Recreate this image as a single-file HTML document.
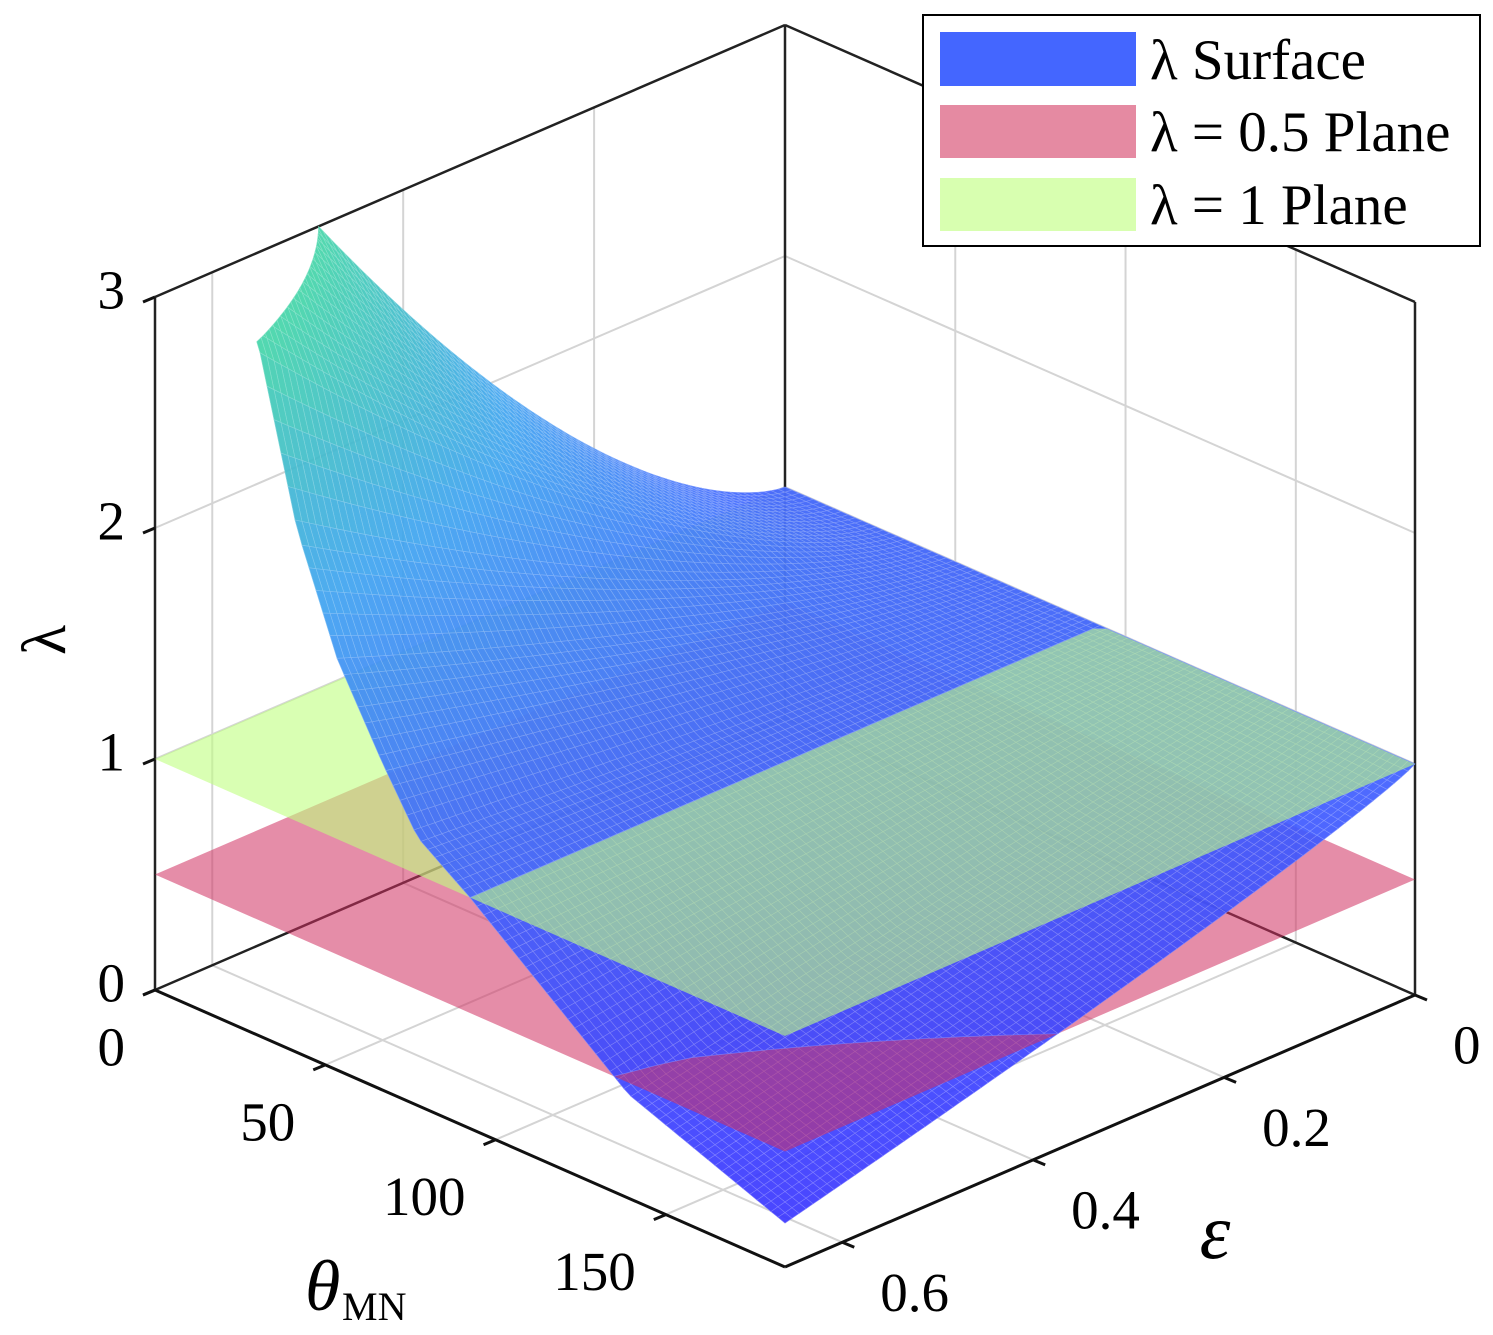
<!DOCTYPE html>
<html><head><meta charset="utf-8">
<style>
html,body{margin:0;padding:0;background:#fff;}
svg{display:block;}
text{font-family:"Liberation Serif",serif;fill:#000;}
</style></head>
<body>
<svg id="chart" width="1493" height="1335" viewBox="0 0 1493 1335" xmlns="http://www.w3.org/2000/svg">
  <g id="walls"></g>
  <g id="band0" opacity="0.92"></g>
  <g id="plane05"></g>
  <g id="band1" opacity="0.92"></g>
  <g id="plane1"></g>
  <g id="band2" opacity="0.92"></g>
  <g id="axes"></g>

  <text x="45" y="640" font-size="62" text-anchor="middle" dominant-baseline="central" transform="rotate(-90 45 640)">λ</text>
  <g>
    <text x="305" y="1310" font-size="72" font-style="italic">θ</text>
    <text x="342" y="1320" font-size="40">MN</text>
  </g>
  <text x="1215" y="1258" font-size="78" font-style="italic" text-anchor="middle">ε</text>

  <g>
    <rect x="923" y="15" width="557" height="231" fill="#fff" stroke="#000" stroke-width="2"/>
    <g>
      <rect x="940" y="32" width="196" height="54" fill="#4466ff"/>
      <text x="1150" y="79" font-size="57">λ Surface</text>
    </g>
    <g>
      <rect x="940" y="105" width="196" height="53" fill="#e58aa2"/>
      <text x="1150" y="151" font-size="57">λ = 0.5 Plane</text>
    </g>
    <g>
      <rect x="940" y="178" width="196" height="53" fill="#d8ffb0"/>
      <text x="1150" y="224" font-size="57">λ = 1 Plane</text>
    </g>
  </g>
</svg>
<script>
// ---- data ----
const thetaTicks = [0, 50, 100, 150];
const epsTicks = [0, 0.2, 0.4, 0.6];
const epsTickLabels = ["0", "0.2", "0.4", "0.6"];
const lamTicks = [0, 1, 2, 3];
const planeLevels = [0.5, 1];
// surface shape: lambda = 1 + g(theta) * (eps/epsMax)^p(theta), clipped at 3
const surfThetaKnots = [0, 30.5, 41.6, 53.5, 66.6, 77.1, 92.5, 139, 185];
const surfGKnots = [3.14, 1.98, 1.27, 0.78, 0.42, 0.16, 0.0, -0.55, -0.81];
const expThetaKnots = [0, 92.5, 185];
const expKnots = [1.5, 1.2, 0.85];

const TH_MAX = 185, EPS_MAX = 0.66, LAM_MAX = 3;
const O = [785, 718], VA = [630, 277], VB = [-630, 272], LPX = 231;
const NS = "http://www.w3.org/2000/svg";

function P(th, ep, lam){
  const a = th/TH_MAX, b = ep/EPS_MAX;
  return [O[0]+VA[0]*a+VB[0]*b, O[1]+VA[1]*a+VB[1]*b-LPX*lam];
}
function interp(xs, ys, x){
  for(let i=0;i<xs.length-1;i++){
    if(x<=xs[i+1]){ const f=(x-xs[i])/(xs[i+1]-xs[i]); return ys[i]+(ys[i+1]-ys[i])*f; }
  }
  return ys[ys.length-1];
}
function lamAt(th, ep){
  return 1 + interp(surfThetaKnots,surfGKnots,th)*Math.pow(ep/EPS_MAX, interp(expThetaKnots,expKnots,th));
}
function pts(arr){ return arr.map(p=>p[0].toFixed(1)+","+p[1].toFixed(1)).join(" "); }
function line(parent, p, q, stroke, w, name){
  const l=document.createElementNS(NS,"line");
  l.setAttribute("x1",p[0]);l.setAttribute("y1",p[1]);l.setAttribute("x2",q[0]);l.setAttribute("y2",q[1]);
  l.setAttribute("stroke",stroke);l.setAttribute("stroke-width",w);
  
  
  parent.appendChild(l);
}
function txt(parent, x, y, s, anchor, name){
  const t=document.createElementNS(NS,"text");
  t.setAttribute("x",x);t.setAttribute("y",y);t.setAttribute("font-size","55");
  t.setAttribute("text-anchor",anchor);t.setAttribute("dominant-baseline","central");
  t.textContent=s;
  
  
  parent.appendChild(t);
}

// ---- back grid + back edges ----
const walls=document.getElementById("walls");
const GC="#d4d4d4";
lamTicks.forEach(l=>{ if(l>0){
  line(walls,P(0,0,l),P(0,EPS_MAX,l),GC,2,"grid-lambda-left");
  line(walls,P(0,0,l),P(TH_MAX,0,l),GC,2,"grid-lambda-right");
}});
epsTicks.forEach(e=>{ if(e>0){
  line(walls,P(0,e,0),P(0,e,LAM_MAX),GC,2,"grid-eps-wall");
  line(walls,P(0,e,0),P(TH_MAX,e,0),GC,2,"grid-eps-floor");
}});
thetaTicks.forEach(t=>{ if(t>0){
  line(walls,P(t,0,0),P(t,0,LAM_MAX),GC,2,"grid-theta-wall");
  line(walls,P(t,0,0),P(t,EPS_MAX,0),GC,2,"grid-theta-floor");
}});
line(walls,P(0,0,0),P(0,0,LAM_MAX),"#222",2.5,"box-back-vertical");
line(walls,P(0,0,0),P(0,EPS_MAX,0),"#222",2.5,"box-back-left");
line(walls,P(0,0,0),P(TH_MAX,0,0),"#222",2.5,"box-back-right");
line(walls,P(0,0,LAM_MAX),P(0,EPS_MAX,LAM_MAX),"#222",2.5,"box-top-left");
line(walls,P(0,0,LAM_MAX),P(TH_MAX,0,LAM_MAX),"#222",2.5,"box-top-right");
line(walls,P(0,EPS_MAX,0),P(0,EPS_MAX,LAM_MAX),"#222",2.5,"box-left-vertical");
line(walls,P(TH_MAX,0,0),P(TH_MAX,0,LAM_MAX),"#222",2.5,"box-right-vertical");

// ---- planes ----
function plane(id, lam, color, op, name){
  const gEl=document.getElementById(id);
  const p=document.createElementNS(NS,"polygon");
  p.setAttribute("points",pts([P(0,0,lam),P(TH_MAX,0,lam),P(TH_MAX,EPS_MAX,lam),P(0,EPS_MAX,lam)]));
  p.setAttribute("fill",color);p.setAttribute("fill-opacity",op);
  
  
  gEl.appendChild(p);
}
plane("plane05",planeLevels[0],"#d03060",0.55,"plane-lambda-0-5");
plane("plane1",planeLevels[1],"#bfff80",0.6,"plane-lambda-1");

// ---- surface ----
const colStops=[[0,[58,44,255]],[1,[64,98,255]],[2,[63,164,240]],[3,[69,214,168]]];
function colArr(l){
  l=Math.max(0,Math.min(3,l));
  for(let i=0;i<colStops.length-1;i++){
    const [l0,c0]=colStops[i],[l1,c1]=colStops[i+1];
    if(l<=l1){const f=(l-l0)/(l1-l0);return c0.map((v,k)=>Math.round(v+(c1[k]-v)*f));}
  }
}
// clip polygon (vertices [th,ep,lam]) by lam>=v (sign=1) or lam<=v (sign=-1)
function clip(poly, v, sign){
  const out=[];
  for(let i=0;i<poly.length;i++){
    const A=poly[i],B=poly[(i+1)%poly.length];
    const ia=sign*(A[2]-v)>=0, ib=sign*(B[2]-v)>=0;
    if(ia) out.push(A);
    if(ia!==ib){
      const f=(v-A[2])/(B[2]-A[2]);
      out.push([A[0]+(B[0]-A[0])*f,A[1]+(B[1]-A[1])*f,v]);
    }
  }
  return out;
}
const bandRanges=[[-10,planeLevels[0]],[planeLevels[0],planeLevels[1]],[planeLevels[1],LAM_MAX]];
const N=90;
const pieces=[];
for(let i=0;i<N;i++)for(let j=0;j<N;j++){
  const t0=TH_MAX*i/N,t1=TH_MAX*(i+1)/N,e0=EPS_MAX*j/N,e1=EPS_MAX*(j+1)/N;
  const quad=[[t0,e0,lamAt(t0,e0)],[t1,e0,lamAt(t1,e0)],[t1,e1,lamAt(t1,e1)],[t0,e1,lamAt(t0,e1)]];
  bandRanges.forEach((r,bi)=>{
    let pl=clip(quad,r[0],1);
    if(pl.length<3) return;
    pl=clip(pl,r[1],-1);
    if(pl.length<3) return;
    const avg=pl.reduce((s,v)=>s+v[2],0)/pl.length;
    pieces.push({d:i+j,bi,avg,p:pl.map(v=>P(v[0],v[1],v[2]))});
  });
}
pieces.sort((x,y)=>x.d-y.d);
const bands=[document.getElementById("band0"),document.getElementById("band1"),document.getElementById("band2")];
pieces.forEach(q=>{
  const poly=document.createElementNS(NS,"polygon");
  poly.setAttribute("points",pts(q.p));
  const c=colArr(q.avg);
  const lc=c.map(v=>Math.round(v+(255-v)*0.3));
  poly.setAttribute("fill","rgb("+c.join(",")+")");
  poly.setAttribute("stroke","rgb("+lc.join(",")+")");
  poly.setAttribute("stroke-width","0.6");
  
  
  bands[q.bi].appendChild(poly);
});

// ---- front axes, ticks, labels ----
const axes=document.getElementById("axes");
line(axes,P(0,EPS_MAX,0),P(TH_MAX,EPS_MAX,0),"#111",3,"theta-axis-line");
line(axes,P(TH_MAX,0,0),P(TH_MAX,EPS_MAX,0),"#111",3,"epsilon-axis-line");
thetaTicks.forEach(t=>{
  const p=P(t,EPS_MAX,0);
  line(axes,p,[p[0]-12,p[1]+5],"#111",3,"theta-tick");
  txt(axes,p[0]-30,p[1]+57,String(t),"end","theta-tick-label");
});
epsTicks.forEach((e,k)=>{
  const p=P(TH_MAX,e,0);
  line(axes,p,[p[0]+12,p[1]+5],"#111",3,"epsilon-tick");
  txt(axes,p[0]+38,p[1]+50,epsTickLabels[k],"start","epsilon-tick-label");
});
lamTicks.forEach(l=>{
  const p=P(0,EPS_MAX,l);
  line(axes,p,[p[0]-12,p[1]+5],"#111",3,"lambda-tick");
  txt(axes,p[0]-30,p[1]-7,String(l),"end","lambda-tick-label");
});
</script>
</body></html>
